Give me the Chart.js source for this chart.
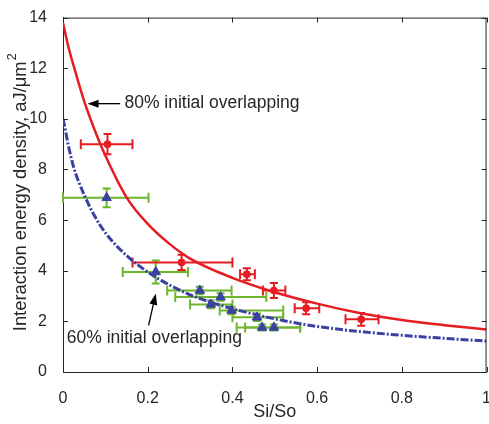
<!DOCTYPE html>
<html lang="en">
<head>
<meta charset="UTF-8">
<title>Interaction energy density vs Si/So</title>
<script src="https://cdn.jsdelivr.net/npm/chart.js"></script>
<style>
  html, body { margin: 0; padding: 0; background: #fff; overflow: hidden; }
  #caixa { width: 500px; height: 424px; }
</style>
</head>
<body>
<div id="caixa"><canvas id="grafico" width="500" height="424"></canvas></div>

<script>
// fitted curves
var curva80X = [0, 0.012, 0.025, 0.05, 0.075, 0.1, 0.15, 0.2, 0.25, 0.3, 0.4, 0.5, 0.6, 0.7, 0.8, 0.9, 1.0];
var curva80Y = [13.8, 12.9, 12.1, 10.7, 9.55, 8.55, 6.9, 5.85, 5.08, 4.48, 3.72, 3.15, 2.7, 2.33, 2.05, 1.85, 1.68];
var curva60X = [0, 0.004, 0.012, 0.025, 0.05, 0.075, 0.1, 0.15, 0.2, 0.25, 0.3, 0.35, 0.4, 0.5, 0.6, 0.7, 0.8, 0.9, 1.0];
var curva60Y = [10.0, 9.7, 9.0, 8.1, 7.0, 6.15, 5.5, 4.6, 3.95, 3.45, 3.05, 2.75, 2.5, 2.1, 1.8, 1.6, 1.45, 1.33, 1.22];

// 80% initial overlapping (red)
var p80X    = [0.105, 0.280, 0.434, 0.498, 0.574, 0.704];
var p80Y    = [9.00, 4.33, 3.86, 3.22, 2.52, 2.08];
var p80XMin = [0.042, 0.164, 0.418, 0.472, 0.547, 0.667];
var p80XMax = [0.164, 0.400, 0.453, 0.525, 0.605, 0.745];
var p80YErr = [0.40, 0.30, 0.24, 0.30, 0.24, 0.25];

// 60% initial overlapping (blue triangles, green bars)
var p60X    = [0.103, 0.219, 0.323, 0.372, 0.349, 0.398, 0.458, 0.470, 0.498];
var p60Y    = [6.88, 3.95, 3.22, 2.96, 2.67, 2.43, 2.16, 1.76, 1.76];
var p60XMin = [0.000, 0.141, 0.246, 0.265, 0.300, 0.370, 0.400, 0.410, 0.430];
var p60XMax = [0.202, 0.295, 0.398, 0.480, 0.400, 0.520, 0.520, 0.560, 0.560];
var p60YErr = [0.37, 0.45, 0.15, 0.15, 0.15, 0.15, 0.15, 0.12, 0.12];

var xTicks = [0, 0.2, 0.4, 0.6, 0.8, 1];
var yTicks = [0, 2, 4, 6, 8, 10, 12, 14];

var vermelho = '#e61c22';
var azul = '#3a41a0';
var verde = '#6cb52d';
var eixo = '#262626';
var fonte = '"Liberation Sans", Arial, Helvetica, sans-serif';

function pares(xs, ys) {
  return xs.map(function (x, i) { return { x: x, y: ys[i] }; });
}

// error bars, drawn under the markers
var barrasErro = {
  id: 'barrasErro',
  beforeDatasetsDraw: function (chart) {
    var ctx = chart.ctx;
    var sx = chart.scales.x, sy = chart.scales.y;
    function desenha(xs, ys, xmin, xmax, yerr, cor) {
      ctx.save();
      ctx.strokeStyle = cor;
      ctx.lineWidth = 2;
      for (var i = 0; i < xs.length; i++) {
        var px = sx.getPixelForValue(xs[i]);
        var py = sy.getPixelForValue(ys[i]);
        var x0 = sx.getPixelForValue(xmin[i]);
        var x1 = sx.getPixelForValue(xmax[i]);
        var y0 = sy.getPixelForValue(ys[i] - yerr[i]);
        var y1 = sy.getPixelForValue(ys[i] + yerr[i]);
        ctx.beginPath();
        ctx.moveTo(x0, py); ctx.lineTo(x1, py);
        ctx.moveTo(x0, py - 5); ctx.lineTo(x0, py + 5);
        ctx.moveTo(x1, py - 5); ctx.lineTo(x1, py + 5);
        ctx.moveTo(px, y0); ctx.lineTo(px, y1);
        ctx.moveTo(px - 4, y0); ctx.lineTo(px + 4, y0);
        ctx.moveTo(px - 4, y1); ctx.lineTo(px + 4, y1);
        ctx.stroke();
      }
      ctx.restore();
    }
    desenha(p60X, p60Y, p60XMin, p60XMax, p60YErr, verde);
    desenha(p80X, p80Y, p80XMin, p80XMax, p80YErr, vermelho);
  }
};

// text labels with arrows
var anotacoes = {
  id: 'anotacoes',
  afterDatasetsDraw: function (chart) {
    var ctx = chart.ctx;
    var sx = chart.scales.x, sy = chart.scales.y;
    function seta(xa, ya, xb, yb) {
      var a = sx.getPixelForValue(xa), b = sy.getPixelForValue(ya);
      var c = sx.getPixelForValue(xb), d = sy.getPixelForValue(yb);
      var ang = Math.atan2(d - b, c - a);
      ctx.beginPath();
      ctx.moveTo(a, b); ctx.lineTo(c - 6 * Math.cos(ang), d - 6 * Math.sin(ang));
      ctx.stroke();
      ctx.beginPath();
      ctx.moveTo(c, d);
      ctx.lineTo(c - 11 * Math.cos(ang) + 4 * Math.sin(ang), d - 11 * Math.sin(ang) - 4 * Math.cos(ang));
      ctx.lineTo(c - 11 * Math.cos(ang) - 4 * Math.sin(ang), d - 11 * Math.sin(ang) + 4 * Math.cos(ang));
      ctx.closePath();
      ctx.fill();
    }
    ctx.save();
    ctx.strokeStyle = '#000';
    ctx.fillStyle = '#000';
    ctx.lineWidth = 1.3;
    seta(0.135, 10.6, 0.058, 10.6);
    seta(0.202, 1.84, 0.219, 3.09);
    ctx.fillStyle = eixo;
    ctx.font = '17.5px ' + fonte;
    ctx.textBaseline = 'middle';
    ctx.fillText('80% initial overlapping', sx.getPixelForValue(0.145), sy.getPixelForValue(10.6));
    ctx.fillText('60% initial overlapping', sx.getPixelForValue(0.009), sy.getPixelForValue(1.33));
    ctx.restore();
  }
};

// box, inward ticks and the y title with superscript
var moldura = {
  id: 'moldura',
  afterDraw: function (chart) {
    var ctx = chart.ctx, a = chart.chartArea;
    var sx = chart.scales.x, sy = chart.scales.y;
    ctx.save();
    ctx.strokeStyle = eixo;
    ctx.lineWidth = 1;
    ctx.beginPath();
    ctx.moveTo(a.left, a.top + 0.5); ctx.lineTo(a.right, a.top + 0.5);
    ctx.moveTo(a.right - 0.5, a.top); ctx.lineTo(a.right - 0.5, a.bottom);
    xTicks.forEach(function (v) {
      var p = Math.round(sx.getPixelForValue(v)) + 0.5;
      ctx.moveTo(p, a.bottom); ctx.lineTo(p, a.bottom - 5);
      ctx.moveTo(p, a.top); ctx.lineTo(p, a.top + 5);
    });
    yTicks.forEach(function (v) {
      var p = Math.round(sy.getPixelForValue(v)) + 0.5;
      ctx.moveTo(a.left, p); ctx.lineTo(a.left + 5, p);
      ctx.moveTo(a.right, p); ctx.lineTo(a.right - 5, p);
    });
    ctx.stroke();

    var titulo = 'Interaction energy density, aJ/\u03bcm';
    ctx.translate(21, (a.top + a.bottom) / 2 - 2);
    ctx.rotate(-Math.PI / 2);
    ctx.fillStyle = eixo;
    ctx.font = '18.4px ' + fonte;
    var w = ctx.measureText(titulo).width;
    ctx.font = '12.5px ' + fonte;
    var w2 = ctx.measureText('2').width;
    var inicio = -(w + w2) / 2;
    ctx.textBaseline = 'middle';
    ctx.font = '18.4px ' + fonte;
    ctx.fillText(titulo, inicio, 0);
    ctx.font = '12.5px ' + fonte;
    ctx.fillText('2', inicio + w + 1, -8);
    ctx.restore();
  }
};

var config = {
  data: {
    datasets: [
      {
        type: 'scatter',
        label: '80% pontos',
        data: pares(p80X, p80Y),
        pointStyle: 'circle',
        pointRadius: 3.5,
        pointBackgroundColor: vermelho,
        pointBorderColor: vermelho,
        order: 1
      },
      {
        type: 'scatter',
        label: '60% pontos',
        data: pares(p60X, p60Y),
        pointStyle: 'triangle',
        pointRadius: 5.5,
        pointBackgroundColor: azul,
        pointBorderColor: azul,
        order: 2
      },
      {
        type: 'line',
        label: '80% curva',
        data: pares(curva80X, curva80Y),
        borderColor: vermelho,
        borderWidth: 2.5,
        pointRadius: 0,
        cubicInterpolationMode: 'monotone',
        fill: false,
        order: 3
      },
      {
        type: 'line',
        label: '60% curva',
        data: pares(curva60X, curva60Y),
        borderColor: azul,
        borderWidth: 3,
        borderDash: [8, 2, 2, 2],
        pointRadius: 0,
        cubicInterpolationMode: 'monotone',
        fill: false,
        order: 4
      }
    ]
  },
  options: {
    responsive: false,
    animation: false,
    layout: { padding: { left: 0, right: 9.5, top: 15, bottom: 0 } },
    plugins: { legend: { display: false }, tooltip: { enabled: false } },
    scales: {
      x: {
        type: 'linear',
        min: 0, max: 1,
        afterBuildTicks: function (s) { s.ticks = xTicks.map(function (v) { return { value: v }; }); },
        afterFit: function (s) { s.height = 52; },
        grid: { display: false },
        border: { display: true, color: eixo, width: 1 },
        ticks: { color: eixo, padding: 9, font: { family: fonte, size: 16 }, maxRotation: 0,
                 callback: function (v) { return String(v); } },
        title: { display: true, text: 'Si/So', color: eixo, font: { family: fonte, size: 18 }, padding: { top: 0, bottom: 1 } }
      },
      y: {
        type: 'linear',
        min: 0, max: 14,
        afterBuildTicks: function (s) { s.ticks = yTicks.map(function (v) { return { value: v }; }); },
        afterFit: function (s) { s.width = 63; },
        grid: { display: false },
        border: { display: true, color: eixo, width: 1 },
        ticks: { color: eixo, padding: 8, font: { family: fonte, size: 16 } }
      }
    }
  },
  plugins: [barrasErro, anotacoes, moldura]
};

new Chart(document.getElementById('grafico'), config);
</script>
</body>
</html>
